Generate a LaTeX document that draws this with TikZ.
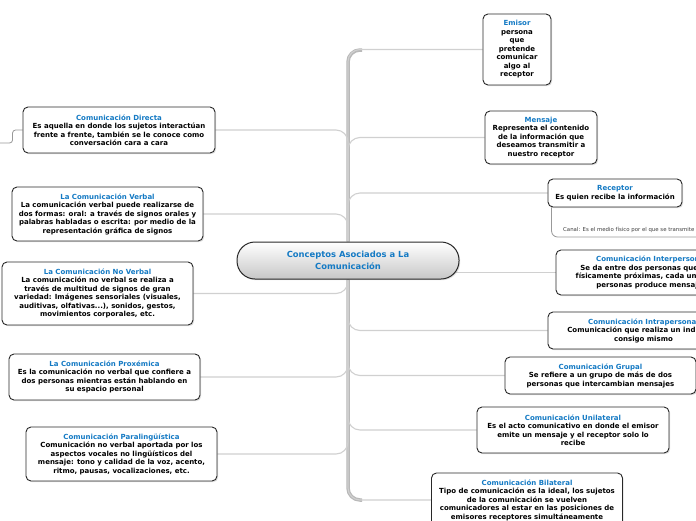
\documentclass[tikz,border=0pt]{standalone}
\usepackage{fontspec}
\setmainfont{DejaVu Sans}
\usetikzlibrary{shadows,backgrounds}
\definecolor{tblue}{RGB}{20,122,196}
\definecolor{bord}{RGB}{40,40,40}
\definecolor{lnk}{RGB}{208,208,208}
\definecolor{trk}{RGB}{185,185,185}
\newcommand{\ttl}[1]{\textcolor{tblue}{#1}}
\tikzset{
 topic/.style={draw=bord, line width=0.9pt, fill=white, rounded corners=5pt, align=center,
   inner xsep=2pt, inner ysep=3pt, font=\fontsize{7}{8.5}\selectfont\bfseries,
   drop shadow={opacity=0.25, shadow xshift=1.2pt, shadow yshift=-1.2pt}},
 central/.style={draw=bord, line width=1pt, rounded corners=18pt, align=center,
   top color=white, bottom color=black!22, text=tblue,
   font=\fontsize{8.4}{11.5}\selectfont\bfseries, minimum width=222pt, minimum height=37pt,
   drop shadow={opacity=0.25, shadow xshift=1.2pt, shadow yshift=-1.2pt}},
 link/.style={draw=lnk, line width=1.1pt, rounded corners=12pt},
 trunk/.style={draw=trk, line width=3.5pt, rounded corners=12pt},
 sublink/.style={draw=black!40, line width=0.8pt, rounded corners=3pt},
}
\begin{document}
\begin{tikzpicture}[x=1pt,y=-1pt]
\useasboundingbox (0,0) rectangle (696,520);

\node[central] (c) at (348,260.5) {Conceptos Asociados a La\\Comunicación};

% left side
\node[topic, minimum width=192pt, minimum height=46pt] (directa) at (119,130)
 {\ttl{Comunicación Directa}\\Es aquella en donde los sujetos interactúan\\frente a frente, también se le conoce como\\conversación cara a cara};
\node[topic, minimum width=191pt, minimum height=54pt] (verbal) at (107.5,214)
 {\ttl{La Comunicación Verbal}\\La comunicación verbal puede realizarse de\\dos formas: oral: a través de signos orales y\\palabras habladas o escrita: por medio de la\\representación gráfica de signos};
\node[topic, minimum width=191pt, minimum height=63pt] (noverbal) at (97.5,293.5)
 {\ttl{La Comunicación No Verbal}\\La comunicación no verbal se realiza a\\través de multitud de signos de gran\\variedad: Imágenes sensoriales (visuales,\\auditivas, olfativas...), sonidos, gestos,\\movimientos corporales, etc.};
\node[topic, minimum width=191pt, minimum height=46pt] (prox) at (104.5,377)
 {\ttl{La Comunicación Proxémica}\\Es la comunicación no verbal que confiere a\\dos personas mientras están hablando en\\su espacio personal};
\node[topic, minimum width=191pt, minimum height=54pt] (paral) at (121.5,454)
 {\ttl{Comunicación Paralingüística}\\Comunicación no verbal aportada por los\\aspectos vocales no lingüísticos del\\mensaje: tono y calidad de la voz, acento,\\ritmo, pausas, vocalizaciones, etc.};

% right side
\node[topic, minimum width=68pt, minimum height=71pt] (emisor) at (517,49.5)
 {\ttl{Emisor}\\persona\\que\\pretende\\comunicar\\algo al\\receptor};
\node[topic, minimum width=112pt, minimum height=53pt] (mensaje) at (541,137.5)
 {\ttl{Mensaje}\\Representa el contenido\\de la información que\\deseamos transmitir a\\nuestro receptor};
\node[topic, minimum width=134pt, minimum height=28pt] (receptor) at (615,193)
 {\ttl{Receptor}\\Es quien recibe la información};
\node[anchor=west, font=\fontsize{5.4}{6}\selectfont, text=black!75, inner sep=0pt] (canal) at (563,230)
 {Canal: Es el medio físico por el que se transmite el mensaje};
\node[topic, minimum width=191pt, minimum height=45pt] (inter) at (651.5,272.5)
 {\ttl{Comunicación Interpersonal}\\Se da entre dos personas que están\\físicamente próximas, cada una de las\\personas produce mensajes};
\node[topic, minimum width=191pt, minimum height=37pt] (intra) at (643.5,330.5)
 {\ttl{Comunicación Intrapersonal}\\Comunicación que realiza un individuo\\consigo mismo};
\node[topic, minimum width=191pt, minimum height=37pt] (grupal) at (600.5,375.5)
 {\ttl{Comunicación Grupal}\\Se refiere a un grupo de más de dos\\personas que intercambian mensajes};
\node[topic, minimum width=192pt, minimum height=46pt] (unilat) at (573,430)
 {\ttl{Comunicación Unilateral}\\Es el acto comunicativo en donde el emisor\\emite un mensaje y el receptor solo lo\\recibe};
\node[topic, minimum width=191pt, minimum height=54pt] (bilat) at (527,500)
 {\ttl{Comunicación Bilateral}\\Tipo de comunicación es la ideal, los sujetos\\de la comunicación se vuelven\\comunicadores al estar en las posiciones de\\emisores receptores simultáneamente};

\coordinate (ttop) at (362,50);
\coordinate (tbot) at (362,500);
\coordinate (dout) at (0,143);
\coordinate (canalend) at (700,237);

\begin{scope}[on background layer]
\fill[white] (0,0) rectangle (696,520);
\draw[trunk] (c) |- (ttop);
\draw[trunk] (c) |- (tbot);
\draw[link] (c) |- (emisor);
\draw[link] (c) |- (mensaje);
\draw[link] (c) |- (receptor);
\draw[link] (c.center |- inter) -- (inter);
\draw[link] (c) |- (intra);
\draw[link] (c) |- (grupal);
\draw[link] (c) |- (unilat);
\draw[link] (c) |- (bilat);
\draw[link] (c) |- (directa);
\draw[link] (c) |- (verbal);
\draw[link] (c) |- (noverbal);
\draw[link] (c) |- (prox);
\draw[link] (c) |- (paral);
\draw[sublink] (directa.west) -- ++(-10,0) |- (dout);
\draw[sublink, rounded corners=6pt] ([xshift=4pt]receptor.south west) |- (canalend);
\end{scope}
\end{tikzpicture}
\end{document}
